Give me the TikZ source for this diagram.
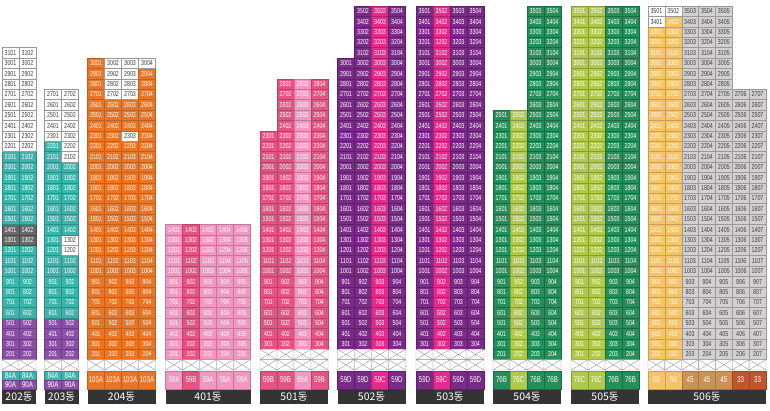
\documentclass[tikz,border=0pt]{standalone}
\usepackage{fontspec}
\newfontfamily\cellfont[FakeStretch=0.74]{Liberation Sans}
\newfontfamily\krfont{Noto Sans CJK KR}
\definecolor{cTeal}{RGB}{60,180,172}
\definecolor{cGrayD}{RGB}{104,104,104}
\definecolor{cPurL}{RGB}{140,78,168}
\definecolor{cPur}{RGB}{122,42,135}
\definecolor{cMag}{RGB}{228,42,138}
\definecolor{cOr}{RGB}{233,118,38}
\definecolor{cPkL}{RGB}{241,152,192}
\definecolor{cPkM}{RGB}{228,84,130}
\definecolor{cGD}{RGB}{38,142,90}
\definecolor{cGL}{RGB}{176,200,78}
\definecolor{cYel}{RGB}{246,196,102}
\definecolor{cGr}{RGB}{210,208,208}
\definecolor{cTan}{RGB}{203,146,88}
\definecolor{cRust}{RGB}{192,86,46}
\definecolor{cBar}{RGB}{52,52,52}
\def\cw{17}
\def\rh{10.4}
\def\yb{370}
\tikzset{
 cell/.style={rectangle, line width=0.4pt, minimum width={\cw*1pt}, minimum height={\rh*1pt}, inner sep=0pt, text=white, font=\cellfont\fontsize{7.2}{8}\selectfont},
 labcell/.style={rectangle, line width=0.4pt, minimum width={\cw*1pt}, inner sep=0pt, text=white, font=\cellfont\fontsize{8.3}{9}\selectfont},
 barcell/.style={rectangle, fill=cBar, text=white, minimum height=14pt, inner sep=0pt, font=\krfont\fontsize{10.5}{11}\selectfont},
 xcell/.style={fill=white, draw=black!40, line width=0.4pt},
 wt/.style={fill=white, draw=black!40, text=black!75},
 tl/.style={fill=cTeal, draw=cTeal!78!black},
 gd/.style={fill=cGrayD, draw=cGrayD!70!black},
 pl/.style={fill=cPurL, draw=cPurL!78!black},
 pu/.style={fill=cPur, draw=cPur!75!black},
 mg/.style={fill=cMag, draw=cMag!78!black},
 orc/.style={fill=cOr, draw=cOr!82!black},
 pkl/.style={fill=cPkL, draw=cPkL!80!black},
 pkm/.style={fill=cPkM, draw=cPkM!80!black},
 gdk/.style={fill=cGD, draw=cGD!75!black},
 glt/.style={fill=cGL, draw=cGL!78!black},
 yel/.style={fill=cYel, draw=cYel!82!black},
 gry/.style={fill=cGr, draw=black!40, text=black!75},
 tanc/.style={fill=cTan, draw=cTan!82!black},
 rustc/.style={fill=cRust, draw=cRust!82!black}
}
% #1 bx, #2 col, #3 from floor, #4 to floor, #5 style, #6 building id
\newcommand\rng[6]{\foreach \f in {#3,...,#4}{\node[cell,#5] (b#6c#2f\f) at ({#1+(#2-0.5)*\cw},{\yb-(\f-0.5)*\rh}) {\the\numexpr\f*100+#2\relax};}}
% #1 bx, #2 ncols, #3 floor
\newcommand\xrow[3]{\foreach \c in {1,...,#2}{\draw[xcell] ({#1+(\c-1)*\cw},{\yb-#3*\rh}) rectangle ({#1+\c*\cw},{\yb-(#3-1)*\rh}) ({#1+(\c-1)*\cw},{\yb-#3*\rh}) -- ({#1+\c*\cw},{\yb-(#3-1)*\rh}) ({#1+(\c-1)*\cw},{\yb-(#3-1)*\rh}) -- ({#1+\c*\cw},{\yb-#3*\rh});}}
% #1 bx, #2 col, #3 ytop, #4 ybot, #5 style, #6 text, #7 name
\newcommand\lab[7]{\node[labcell,#5,minimum height={(#4-#3)*1pt}] (#7) at ({#1+(#2-0.5)*\cw},{(#3+#4)/2}) {#6};}
% #1 bx, #2 ncols, #3 text, #4 name
\newcommand\bbar[4]{\node[barcell,minimum width={#2*\cw*1pt}] (#4) at ({#1+#2*\cw/2},397) {#3};}
\begin{document}
\begin{tikzpicture}[x=1pt,y=-1pt]
\fill[white] (0,0) rectangle (770,410);
\useasboundingbox (0,0) rectangle (770,410);
% ---- 202
\foreach \c in {1,2}{
 \rng{2}{\c}{2}{5}{pl}{A}
 \rng{2}{\c}{6}{12}{tl}{A}
 \rng{2}{\c}{13}{14}{gd}{A}
 \rng{2}{\c}{15}{21}{tl}{A}
 \rng{2}{\c}{22}{31}{wt}{A}
 \lab{2}{\c}{371}{380}{tl}{84A}{lAa\c}
 \lab{2}{\c}{380}{389}{pl}{90A}{lAb\c}
}
\xrow{2}{2}{1}
\bbar{2}{2}{202동}{barA}
% ---- 203
\foreach \c in {1,2}{
 \rng{44.5}{\c}{2}{5}{pl}{B}
 \lab{44.5}{\c}{371}{380}{tl}{84A}{lBa\c}
 \lab{44.5}{\c}{380}{389}{pl}{90A}{lBb\c}
}
\rng{44.5}{1}{6}{22}{tl}{B}
\rng{44.5}{1}{23}{27}{wt}{B}
\rng{44.5}{2}{6}{11}{tl}{B}
\rng{44.5}{2}{12}{13}{wt}{B}
\rng{44.5}{2}{14}{20}{tl}{B}
\rng{44.5}{2}{21}{27}{wt}{B}
\xrow{44.5}{2}{1}
\bbar{44.5}{2}{203동}{barB}
% ---- 204
\rng{87.5}{1}{2}{30}{orc}{C}
\rng{87.5}{2}{2}{26}{orc}{C}
\rng{87.5}{2}{27}{30}{wt}{C}
\rng{87.5}{3}{2}{22}{orc}{C}
\rng{87.5}{3}{23}{23}{wt}{C}
\rng{87.5}{3}{24}{26}{orc}{C}
\rng{87.5}{3}{27}{30}{wt}{C}
\rng{87.5}{4}{2}{29}{orc}{C}
\rng{87.5}{4}{30}{30}{wt}{C}
\foreach \c in {1,...,4}{\lab{87.5}{\c}{371}{389}{orc}{103A}{lC\c}}
\xrow{87.5}{4}{1}
\bbar{87.5}{4}{204동}{barC}
% ---- 401
\foreach \c in {1,3,4,5}{\rng{165.5}{\c}{2}{14}{pkl}{D}}
\rng{165.5}{2}{2}{14}{pkm}{D}
\lab{165.5}{1}{371}{389}{pkl}{59A}{lD1}
\lab{165.5}{2}{371}{389}{pkm}{59B}{lD2}
\lab{165.5}{3}{371}{389}{pkl}{59A}{lD3}
\lab{165.5}{4}{371}{389}{pkl}{59A}{lD4}
\lab{165.5}{5}{371}{389}{pkl}{59A}{lD5}
\xrow{165.5}{5}{1}
\bbar{165.5}{5}{401동}{barD}
% ---- 501
\rng{260}{1}{3}{23}{pkm}{E}
\rng{260}{2}{3}{28}{pkm}{E}
\rng{260}{3}{3}{28}{pkl}{E}
\rng{260}{4}{3}{28}{pkm}{E}
\lab{260}{1}{371}{389}{pkm}{59B}{lE1}
\lab{260}{2}{371}{389}{pkm}{59B}{lE2}
\lab{260}{3}{371}{389}{pkl}{59A}{lE3}
\lab{260}{4}{371}{389}{pkm}{59B}{lE4}
\xrow{260}{4}{1}
\xrow{260}{4}{2}
\bbar{260}{4}{501동}{barE}
% ---- 502
\rng{337.5}{1}{3}{30}{pu}{F}
\rng{337.5}{2}{3}{35}{pu}{F}
\rng{337.5}{3}{3}{35}{mg}{F}
\rng{337.5}{4}{3}{35}{pu}{F}
\lab{337.5}{1}{371}{389}{pu}{59D}{lF1}
\lab{337.5}{2}{371}{389}{pu}{59D}{lF2}
\lab{337.5}{3}{371}{389}{mg}{59C}{lF3}
\lab{337.5}{4}{371}{389}{pu}{59D}{lF4}
\xrow{337.5}{4}{1}
\xrow{337.5}{4}{2}
\bbar{337.5}{4}{502동}{barF}
% ---- 503
\rng{416}{1}{3}{35}{pu}{G}
\rng{416}{2}{3}{35}{mg}{G}
\rng{416}{3}{3}{35}{pu}{G}
\rng{416}{4}{3}{35}{pu}{G}
\lab{416}{1}{371}{389}{pu}{59D}{lG1}
\lab{416}{2}{371}{389}{mg}{59C}{lG2}
\lab{416}{3}{371}{389}{pu}{59D}{lG3}
\lab{416}{4}{371}{389}{pu}{59D}{lG4}
\xrow{416}{4}{1}
\xrow{416}{4}{2}
\bbar{416}{4}{503동}{barG}
% ---- 504
\rng{493}{1}{2}{25}{gdk}{H}
\rng{493}{2}{2}{25}{glt}{H}
\rng{493}{3}{2}{35}{gdk}{H}
\rng{493}{4}{2}{35}{gdk}{H}
\lab{493}{1}{371}{389}{gdk}{76B}{lH1}
\lab{493}{2}{371}{389}{glt}{76C}{lH2}
\lab{493}{3}{371}{389}{gdk}{76B}{lH3}
\lab{493}{4}{371}{389}{gdk}{76B}{lH4}
\xrow{493}{4}{1}
\bbar{493}{4}{504동}{barH}
% ---- 505
\rng{571}{1}{2}{35}{glt}{I}
\rng{571}{2}{2}{35}{glt}{I}
\rng{571}{3}{2}{35}{gdk}{I}
\rng{571}{4}{2}{35}{gdk}{I}
\lab{571}{1}{371}{389}{glt}{76C}{lI1}
\lab{571}{2}{371}{389}{glt}{76C}{lI2}
\lab{571}{3}{371}{389}{gdk}{76B}{lI3}
\lab{571}{4}{371}{389}{gdk}{76B}{lI4}
\xrow{571}{4}{1}
\bbar{571}{4}{505동}{barI}
% ---- 506
\begin{scope}
\def\cw{16.85}
\rng{648}{1}{2}{33}{yel}{J}
\rng{648}{1}{34}{35}{wt}{J}
\rng{648}{2}{2}{34}{yel}{J}
\rng{648}{2}{35}{35}{wt}{J}
\foreach \c in {3,4,5}{\rng{648}{\c}{2}{35}{gry}{J}}
\foreach \c in {6,7}{\rng{648}{\c}{2}{27}{gry}{J}}
\lab{648}{1}{371}{389}{yel}{50}{lJ1}
\lab{648}{2}{371}{389}{yel}{50}{lJ2}
\lab{648}{3}{371}{389}{tanc}{45}{lJ3}
\lab{648}{4}{371}{389}{tanc}{45}{lJ4}
\lab{648}{5}{371}{389}{tanc}{45}{lJ5}
\lab{648}{6}{371}{389}{rustc}{33}{lJ6}
\lab{648}{7}{371}{389}{rustc}{33}{lJ7}
\xrow{648}{7}{1}
\bbar{648}{7}{506동}{barJ}
\end{scope}
\end{tikzpicture}
\end{document}
